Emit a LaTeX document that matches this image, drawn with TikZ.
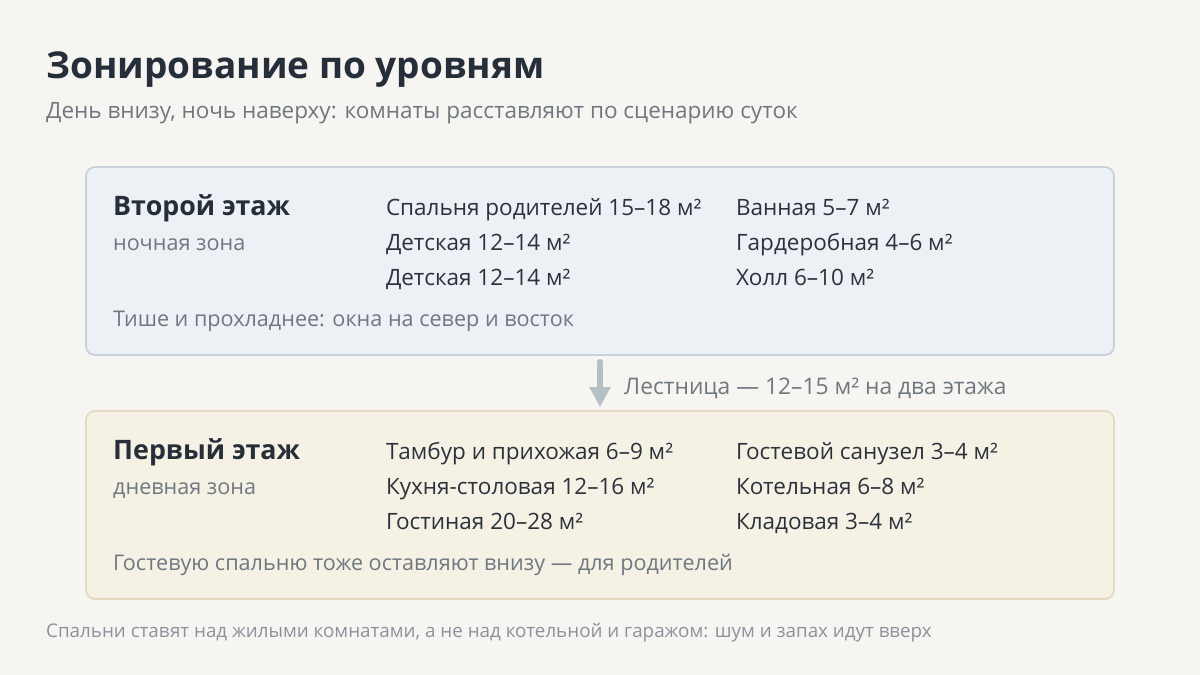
\documentclass[tikz,border=0pt]{standalone}
\usepackage{fontspec}
\setmainfont{Open Sans}
\usetikzlibrary{arrows.meta}
\definecolor{bgc}{HTML}{F6F5F1}
\definecolor{titlec}{HTML}{262F39}
\definecolor{textc}{HTML}{2B323B}
\definecolor{grayc}{HTML}{6F7880}
\definecolor{footc}{HTML}{8A939B}
\definecolor{topfill}{HTML}{EDF0F5}
\definecolor{topline}{HTML}{C9D1DB}
\definecolor{botfill}{HTML}{F6F1E5}
\definecolor{botline}{HTML}{E4DAC0}
\definecolor{arrowc}{HTML}{B6BEC6}
\tikzset{
  txt/.style={anchor=base west, inner sep=0pt, outer sep=0pt, text=textc, font=\fontsize{22.5}{26}\selectfont},
  head/.style={anchor=base west, inner sep=0pt, text=titlec, font=\fontsize{26.8}{30}\selectfont\bfseries},
  sub/.style={anchor=base west, inner sep=0pt, text=grayc, font=\fontsize{21.6}{26}\selectfont},
  panel/.style={rounded corners=9pt, line width=1.8pt},
}
\begin{document}
\begin{tikzpicture}[x=1pt,y=-1pt]
\useasboundingbox (0,0) rectangle (1200,675);
\fill[bgc] (0,0) rectangle (1200,675);
\node[anchor=base west, inner sep=0pt, text=titlec, font=\fontsize{37}{42}\selectfont\bfseries] (title) at (46,78) {Зонирование по уровням};
\node[sub, font=\fontsize{22.5}{26}\selectfont] (subtitle) at (46,118) {День внизу, ночь наверху: комнаты расставляют по сценарию суток};
% top panel
\draw[panel, fill=topfill, draw=topline] (86,167) rectangle (1114,355);
\node[head] (f2) at (113,215) {Второй этаж};
\node[sub] (f2z) at (113,250) {ночная зона};
\node[txt] (a1) at (386,215) {Спальня родителей 15–18 м²};
\node[txt] (a2) at (386,250) {Детская 12–14 м²};
\node[txt] (a3) at (386,285) {Детская 12–14 м²};
\node[txt] (b1) at (736,215) {Ванная 5–7 м²};
\node[txt] (b2) at (736,250) {Гардеробная 4–6 м²};
\node[txt] (b3) at (736,285) {Холл 6–10 м²};
\node[sub] (n2) at (113,326) {Тише и прохладнее: окна на север и восток};
% arrow
\coordinate (as) at (600,362);
\coordinate (ae) at (600,407);
\draw[arrowc, line width=6pt, line cap=round, -{Triangle[length=20pt,width=20pt]}] (as) -- (ae);
\node[sub, font=\fontsize{22.8}{26}\selectfont] (stair) at (624,394) {Лестница — 12–15 м² на два этажа};
% bottom panel
\draw[panel, fill=botfill, draw=botline] (86,411) rectangle (1114,599);
\node[head] (f1) at (113,459) {Первый этаж};
\node[sub] (f1z) at (113,494) {дневная зона};
\node[txt] (c1) at (386,459) {Тамбур и прихожая 6–9 м²};
\node[txt] (c2) at (386,494) {Кухня-столовая 12–16 м²};
\node[txt] (c3) at (386,529) {Гостиная 20–28 м²};
\node[txt] (d1) at (736,459) {Гостевой санузел 3–4 м²};
\node[txt] (d2) at (736,494) {Котельная 6–8 м²};
\node[txt] (d3) at (736,529) {Кладовая 3–4 м²};
\node[sub] (n1) at (113,570) {Гостевую спальню тоже оставляют внизу — для родителей};
\node[anchor=base west, inner sep=0pt, text=footc, font=\fontsize{18.8}{22}\selectfont] (foot) at (46,637) {Спальни ставят над жилыми комнатами, а не над котельной и гаражом: шум и запах идут вверх};
\end{tikzpicture}
\end{document}
